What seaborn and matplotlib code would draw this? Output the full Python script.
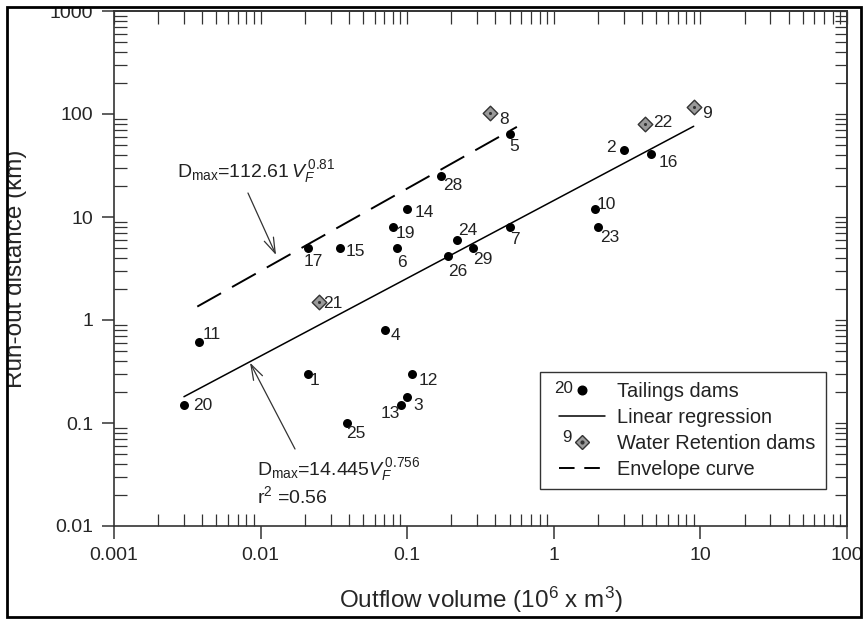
import matplotlib
matplotlib.use("Agg")
import matplotlib.pyplot as plt
import numpy as np
import seaborn as sns
from matplotlib.legend_handler import HandlerBase
from matplotlib.lines import Line2D
from matplotlib.patches import Rectangle
from matplotlib.text import Text
from matplotlib.ticker import FuncFormatter, NullFormatter

# Tailings dams (outflow volume in 10^6 m3, run-out distance in km)
tail_ids = ["1", "2", "3", "4", "5", "6", "7", "10", "11", "12", "13", "14",
            "15", "16", "17", "19", "20", "23", "24", "25", "26", "28", "29"]
tail_vol = [0.021, 3.0, 0.10, 0.071, 0.50, 0.085, 0.50, 1.9, 0.0038, 0.107,
            0.091, 0.10, 0.035, 4.6, 0.021, 0.080, 0.003, 2.0, 0.22, 0.039,
            0.19, 0.17, 0.28]
tail_dist = [0.30, 45, 0.18, 0.80, 64, 5.0, 8.0, 12, 0.61, 0.30, 0.15, 12,
             5.0, 41, 5.0, 8.0, 0.15, 8.0, 6.0, 0.10, 4.2, 25, 5.0]

# Water retention dams
water_ids = ["8", "9", "21", "22"]
water_vol = [0.37, 9.0, 0.025, 4.2]
water_dist = [103, 118, 1.5, 80]

# Linear regression and envelope curve (end points)
reg_vol = [0.003, 9.0]
reg_dist = [0.18, 76]
env_vol = [0.0037, 0.56]
env_dist = [1.35, 75]

# label offsets in pixels (dx, dy) relative to each point
tail_offsets = {"1": (7, -7), "2": (-13, 2), "3": (11, -9), "4": (10, -6),
                "5": (5, -13), "6": (5, -14), "7": (5, -13), "10": (12, 4),
                "11": (13, 8), "12": (17, -7), "13": (-11, -9), "14": (17, -4),
                "15": (15, -3), "16": (17, -9), "17": (5, -13), "19": (12, -7),
                "20": (19, -1), "23": (12, -11), "24": (10, 9), "25": (9, -10),
                "26": (10, -16), "28": (12, -9), "29": (10, -11)}
water_offsets = {"8": (14, -7), "9": (13, -7), "21": (14, -2), "22": (18, 1)}


class NumberedMarker(HandlerBase):
    """Legend handle showing a point number next to the marker."""

    def __init__(self, number, num_x, lift, inner_dot=False):
        super().__init__()
        self.number = number
        self.num_x = num_x
        self.lift = lift
        self.inner_dot = inner_dot

    def create_artists(self, legend, orig_handle, xdescent, ydescent,
                       width, height, fontsize, trans):
        y = height / 2 - ydescent
        txt = Text(width * self.num_x - xdescent, y + self.lift, self.number,
                   fontsize=fontsize * 0.85, ha="center", va="center",
                   color="#222222", transform=trans)
        mk = Line2D([width * 0.59 - xdescent], [y])
        mk.update_from(orig_handle)
        mk.set_transform(trans)
        artists = [txt, mk]
        if self.inner_dot:
            dot = Line2D([width * 0.59 - xdescent], [y], marker="o",
                         markersize=2, color="#333333", linestyle="none",
                         transform=trans)
            artists.append(dot)
        return artists


class ShortLine(HandlerBase):
    """Legend line that leaves some room on the left."""

    def __init__(self, dashes=None):
        super().__init__()
        self.dashes = dashes

    def create_artists(self, legend, orig_handle, xdescent, ydescent,
                       width, height, fontsize, trans):
        y = height / 2 - ydescent
        ln = Line2D([width * 0.16 - xdescent, width - xdescent], [y, y])
        ln.update_from(orig_handle)
        if self.dashes:
            ln.set_dashes(self.dashes)
        ln.set_transform(trans)
        return [ln]


sns.set_style("ticks")
plt.rcParams["font.family"] = ["Liberation Sans", "DejaVu Sans"]
plt.rcParams["mathtext.fontset"] = "custom"
plt.rcParams["mathtext.rm"] = "Liberation Sans"
plt.rcParams["mathtext.it"] = "Liberation Sans:italic"

fig = plt.figure(figsize=(8.65, 6.19), dpi=100)
ax = fig.add_axes([114 / 865, 1 - 526 / 619, 733 / 865, 515 / 619])

sns.lineplot(x=reg_vol, y=reg_dist, color="black", lw=1.1, ax=ax)
sns.lineplot(x=env_vol, y=env_dist, color="black", lw=1.4, ax=ax)
ax.lines[-1].set_dashes((14, 6.5))

sns.scatterplot(x=tail_vol, y=tail_dist, color="black", s=42, linewidth=0,
                ax=ax, legend=False, zorder=3)
sns.scatterplot(x=water_vol, y=water_dist, marker="D", s=55, color="#9a9a9a",
                edgecolor="#333333", linewidth=1.0, ax=ax, legend=False, zorder=3)
sns.scatterplot(x=water_vol, y=water_dist, marker="o", s=5, color="#333333",
                linewidth=0, ax=ax, legend=False, zorder=4)

for i, v, d in zip(tail_ids, tail_vol, tail_dist):
    ax.annotate(i, (v, d), xytext=tail_offsets[i], textcoords="offset pixels",
                ha="center", va="center", fontsize=12.5, color="#222222")
for i, v, d in zip(water_ids, water_vol, water_dist):
    ax.annotate(i, (v, d), xytext=water_offsets[i], textcoords="offset pixels",
                ha="center", va="center", fontsize=12.5, color="#222222")

ax.set_xscale("log")
ax.set_yscale("log")
ax.set_xlim(0.001, 100)
ax.set_ylim(0.01, 1000)

# equations with arrows
arrow = dict(arrowstyle="->,head_length=0.55,head_width=0.18", color="#333333",
             lw=0.9, shrinkA=0, shrinkB=0, mutation_scale=20)
ax.annotate("", xy=(0.01274, 4.28), xytext=(0.0082, 17.1), arrowprops=arrow)
ax.annotate("", xy=(0.00847, 0.385), xytext=(0.01717, 0.0559), arrowprops=arrow)
ax.text(0.00268, 24.6, r"D$_{\mathrm{max}}$=112.61$\,V_F^{\,\mathrm{0.81}}$",
        fontsize=14, va="baseline", ha="left", color="#222222")
ax.text(0.0094, 0.0313, r"D$_{\mathrm{max}}$=14.445$V_F^{\,\mathrm{0.756}}$",
        fontsize=14, va="baseline", ha="left", color="#222222")
ax.text(0.0094, 0.0166, r"r$^2$ =0.56", fontsize=14, va="baseline",
        ha="left", color="#222222")

# ticks: major outward and minor inward on bottom/left, all inward on top/right
fmt = FuncFormatter(lambda v, pos: f"{v:g}")
ax.xaxis.set_major_formatter(fmt)
ax.yaxis.set_major_formatter(fmt)
ax.xaxis.set_minor_formatter(NullFormatter())
ax.yaxis.set_minor_formatter(NullFormatter())
ax.tick_params(which="major", direction="out", length=9, width=1.1,
               labelsize=14, pad=6, top=False, right=False, color="#333333")
ax.tick_params(which="minor", direction="in", length=9, width=0.9,
               top=False, right=False, color="#333333")

secx = ax.secondary_xaxis("top")
secx.tick_params(which="both", direction="in", length=9, width=0.9,
                 labeltop=False, color="#333333")
secx.xaxis.set_minor_formatter(NullFormatter())
secy = ax.secondary_yaxis("right")
secy.tick_params(which="both", direction="in", length=9, width=0.9,
                 labelright=False, color="#333333")
secy.yaxis.set_minor_formatter(NullFormatter())

for sp in ax.spines.values():
    sp.set_linewidth(1.2)
    sp.set_color("#333333")
for s in (secx, secy):
    for sp in s.spines.values():
        sp.set_linewidth(1.2)
        sp.set_color("#333333")

ax.set_xlabel(r"Outflow volume (10$^6$ x m$^3$)", fontsize=17.5)
ax.set_ylabel("Run-out distance (km)", fontsize=17.5)
ax.xaxis.set_label_coords(0.5, -0.115)
ax.yaxis.set_label_coords(-0.1187, 0.5)

# legend
h_tail = Line2D([], [], marker="o", color="black", linestyle="none",
                markersize=6.2)
h_reg = Line2D([], [], color="black", lw=1.1)
h_water = Line2D([], [], marker="D", markersize=7, markerfacecolor="#9a9a9a",
                 markeredgecolor="#333333", markeredgewidth=1.0, linestyle="none")
h_env = Line2D([], [], color="black", lw=1.4)
leg = ax.legend([h_tail, h_reg, h_water, h_env],
                ["Tailings dams", "Linear regression", "Water Retention dams",
                 "Envelope curve"],
                handler_map={h_tail: NumberedMarker("20", 0.24, 1.0),
                             h_reg: ShortLine(),
                             h_water: NumberedMarker("9", 0.31, 3.5,
                                                     inner_dot=True),
                             h_env: ShortLine(dashes=(8, 5))},
                loc="lower right", bbox_to_anchor=(0.971, 0.0713),
                borderaxespad=0, fontsize=14.4, frameon=True, fancybox=False,
                framealpha=1, edgecolor="#333333", handlelength=2.75,
                handletextpad=0.62, labelspacing=0.35, borderpad=0.5)
leg.get_frame().set_linewidth(1.0)
for t in leg.get_texts():
    t.set_color("#222222")

# cropped-figure look: white margins and a black border
for x0, y0, w, h in [(0, 0, 7, 619), (861, 0, 4, 619), (0, 0, 865, 7),
                     (0, 617, 865, 2)]:
    fig.patches.append(Rectangle((x0 / 865, 1 - (y0 + h) / 619), w / 865,
                                 h / 619, transform=fig.transFigure,
                                 color="white", zorder=10))
fig.patches.append(Rectangle((7 / 865, 1 - 617 / 619), 854 / 865, 610 / 619,
                             transform=fig.transFigure, fill=False, lw=2,
                             edgecolor="black", zorder=11))

fig.savefig("out.png", dpi=100)
